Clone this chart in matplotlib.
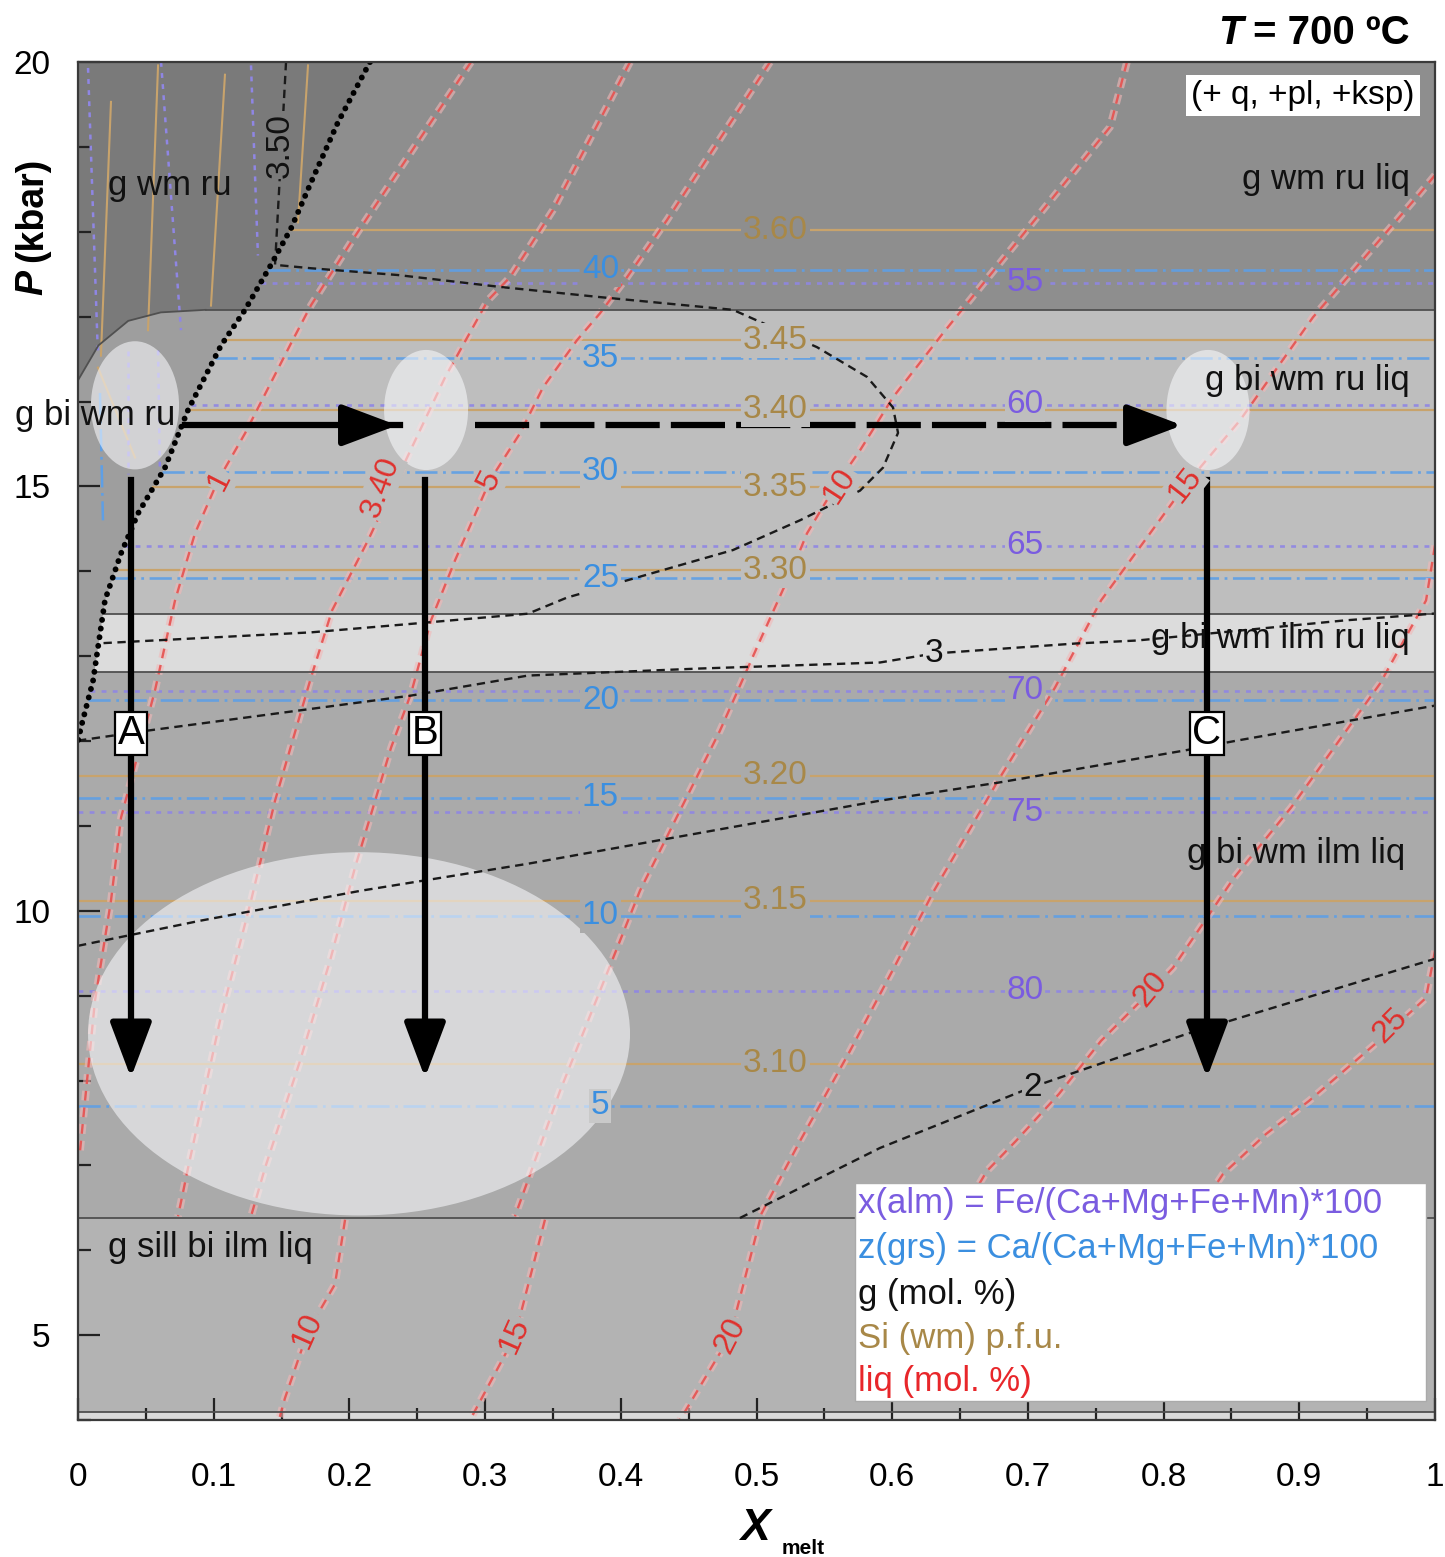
import numpy as np
import matplotlib
matplotlib.use("Agg")
import matplotlib.pyplot as plt
from matplotlib.patches import Ellipse, Polygon, Rectangle

plt.rcParams['font.family'] = ['Liberation Sans', 'DejaVu Sans']
plt.rcParams['lines.scale_dashes'] = False

# ---------------- data ----------------
x_ticks = [0, 0.1, 0.2, 0.3, 0.4, 0.5, 0.6, 0.7, 0.8, 0.9, 1]
x_ticklabels = ['0', '0.1', '0.2', '0.3', '0.4', '0.5', '0.6', '0.7', '0.8', '0.9', '1']
y_ticks = [5, 10, 15, 20]
y_ticklabels = ['5', '10', '15', '20']

# horizontal field bands (kbar)
field_bottom = [17.08, 13.50, 12.81, 6.38, 4.10, 4.00]
field_top = [20.00, 17.08, 13.50, 12.81, 6.38, 4.10]
field_colors = ['#8e8e8e', '#bebebe', '#dcdcdc', '#aaaaaa', '#b3b3b3', '#d9d9d9']
boundary_P = [17.08, 13.50, 12.81, 6.38, 4.10]

# thick dotted boundary
dotted_X = [0.2152, 0.1916, 0.1717, 0.1570, 0.1422, 0.1231, 0.1054, 0.0811, 0.0641,
            0.0442, 0.0317, 0.0199, 0.0111, 0.0022, 0.0]
dotted_P = [20.0, 19.29, 18.58, 18.04, 17.61, 17.08, 16.66, 15.90, 15.22,
            14.68, 14.21, 13.66, 12.71, 12.16, 12.0]
# rounded upper boundary of the g bi wm ru field
curve_X = [0.0, 0.015, 0.037, 0.061, 0.094]
curve_P = [16.25, 16.66, 16.95, 17.05, 17.08]

# garnet isopleths (horizontal)
grs_vals = [40, 35, 30, 25, 20, 15, 10, 5]
grs_P = [17.55, 16.51, 15.17, 13.92, 12.48, 11.33, 9.94, 7.70]
alm_vals = [55, 60, 65, 70, 75, 80]
alm_P = [17.40, 15.96, 14.30, 12.59, 11.16, 9.06]
si_vals = ['3.60', '3.45', '3.40', '3.35', '3.30', '3.20', '3.15', '3.10']
si_P = [18.02, 16.72, 15.90, 14.99, 14.01, 11.59, 10.12, 8.20]
grs_label_X = 0.385
alm_label_X = 0.698
si_label_X = 0.514

# near-vertical isopleths in the ru fields (upper left)
si_v_X = [[0.0243, 0.0169], [0.059, 0.0516], [0.1083, 0.098], [0.1695, 0.1621], [0.0147, 0.042]]
si_v_P = [[19.53, 16.54], [19.96, 16.84], [19.85, 17.13], [19.96, 18.11], [16.40, 15.34]]
alm_v_X = [[0.0074, 0.0147], [0.0612, 0.0759], [0.1275, 0.1326], [0.0368, 0.0368], [0.059, 0.0604]]
alm_v_P = [[19.93, 16.54], [20.0, 16.84], [19.96, 17.72], [16.60, 15.15], [16.60, 15.15]]
grs_v_X = [[0.0162, 0.0184]]
grs_v_P = [[16.10, 14.60]]

# garnet mode isopleths (black dashed)
g35_X = [0.1533, 0.1452, 0.1717, 0.2358, 0.311, 0.3847, 0.4827, 0.5446, 0.5814, 0.6006,
         0.6043, 0.5932, 0.5763, 0.532, 0.4827, 0.4215, 0.3604, 0.3316, 0.2454, 0.1717, 0.0147]
g35_P = [20.0, 17.61, 17.57, 17.49, 17.35, 17.23, 17.08, 16.64, 16.29, 15.93,
         15.63, 15.22, 14.95, 14.60, 14.25, 13.97, 13.69, 13.50, 13.38, 13.28, 13.15]
g3_X = [0.0, 0.0516, 0.2454, 0.3316, 0.4584, 0.5910, 0.6308, 0.7355, 0.7804, 0.9329, 1.0]
g3_P = [12.005, 12.123, 12.535, 12.771, 12.854, 12.925, 13.031, 13.149, 13.184, 13.420, 13.502]
g25_X = [0.0, 0.0899, 0.2085, 0.3316, 0.5910, 0.6780, 0.8150, 0.8541, 1.0]
g25_P = [9.587, 9.882, 10.236, 10.554, 11.297, 11.509, 11.887, 12.005, 12.417]
g2_X = [0.4878, 0.5910, 0.7016, 0.8172, 1.0]
g2_P = [6.38, 7.205, 7.913, 8.550, 9.434]

# melt (liq) isopleths
liq1_X = [0.2896, 0.2307, 0.2012, 0.1717, 0.1570, 0.1231, 0.1032, 0.0862, 0.0715, 0.0567,
          0.0317, 0.0243, 0.0125, 0.0015]
liq1_P = [20.0, 18.585, 17.877, 17.134, 16.686, 15.625, 15.071, 14.446, 13.656, 12.594,
          11.097, 10.118, 8.939, 7.17]
liq3_X = [0.4068, 0.3500, 0.3184, 0.3021, 0.2705, 0.2321, 0.2137, 0.1872, 0.1717, 0.1452,
          0.1275, 0.1046, 0.0811, 0.0737]
liq3_P = [20.0, 18.255, 17.465, 17.193, 16.285, 14.988, 14.363, 13.538, 12.748, 11.297,
          10.118, 8.703, 6.969, 6.40]
liq5_X = [0.5100, 0.4340, 0.4046, 0.3847, 0.3677, 0.3427, 0.3257, 0.3036, 0.2778, 0.2601,
          0.2454, 0.2307, 0.2041, 0.1857, 0.1636, 0.1378, 0.1275]
liq5_P = [20.0, 18.137, 17.465, 17.040, 16.722, 16.167, 15.625, 15.071, 14.127, 13.420,
          12.559, 11.922, 10.507, 9.410, 8.231, 6.969, 6.40]
liq10_X = [0.7730, 0.7605, 0.6374, 0.6006, 0.5763, 0.5593, 0.5372, 0.5269, 0.5026, 0.4731,
           0.4436, 0.4141, 0.3847, 0.3552, 0.3220]
liq10_P = [20.0, 19.233, 16.804, 16.050, 15.425, 15.035, 14.446, 14.045, 13.184, 12.123,
           11.179, 10.236, 9.057, 7.877, 6.40]
liq15_X = [1.0, 0.9890, 0.9101, 0.8563, 0.8158, 0.7539, 0.7200, 0.6780, 0.6308, 0.6013,
           0.5689, 0.5321, 0.5026]
liq15_P = [18.667, 18.455, 16.993, 15.778, 15.012, 13.656, 12.630, 11.533, 10.236, 9.328,
           8.349, 7.288, 6.40]
liq20_X = [1.0, 0.9934, 0.9595, 0.8939, 0.8519, 0.8069, 0.7907, 0.7539, 0.7229, 0.6912,
           0.6698, 0.6500]
liq20_P = [14.304, 13.656, 12.677, 11.215, 10.389, 9.328, 9.057, 8.467, 7.842, 7.288,
           6.934, 6.40]
liq25_X = [1.0, 0.9934, 0.9646, 0.9071, 0.8755, 0.8438, 0.8231]
liq25_P = [9.528, 8.974, 8.550, 7.759, 7.370, 6.899, 6.40]
liqL10_X = [0.1968, 0.1894, 0.1695, 0.1525, 0.1481]
liqL10_P = [6.36, 5.601, 5.047, 4.257, 4.0]
liqL15_X = [0.3441, 0.3220, 0.2889]
liqL15_P = [6.36, 4.988, 4.0]
liqL20_X = [0.5026, 0.4805, 0.4436]
liqL20_P = [6.36, 4.988, 4.0]

liq_label_text = ['1', '3.40', '5', '10', '15', '20', '25', '10', '15', '20']
liq_label_X = [0.1046, 0.2233, 0.3036, 0.5615, 0.8158, 0.7907, 0.9668, 0.1695, 0.3220, 0.4805]
liq_label_P = [15.07, 14.99, 15.07, 15.01, 15.01, 9.08, 8.644, 5.05, 4.99, 4.99]
liq_label_rot = [63, 70, 63, 57, 52, 50, 45, 66, 66, 63]

g_label_text = ['3', '2', '3.50']
g_label_X = [0.6308, 0.7038, 0.149]
g_label_P = [13.03, 7.913, 19.02]
g_label_rot = [0, 0, 90]

# field names
field_names = ['g wm ru', 'g wm ru liq', 'g bi wm ru liq', 'g bi wm ru', 'g bi wm ilm ru liq',
               'g bi wm ilm liq', 'g sill bi ilm liq']
field_name_X = [0.0678, 0.9816, 0.9816, -0.0464, 0.9816, 0.978, 0.0221]
field_name_P = [18.55, 18.61, 16.25, 15.84, 13.21, 10.67, 6.03]
field_name_ha = ['center', 'right', 'right', 'left', 'right', 'right', 'left']

# highlighted ellipses (centre X, centre P, width, height)
ell_X = [0.042, 0.2565, 0.8327, 0.2071]
ell_P = [15.955, 15.90, 15.90, 8.55]
ell_w = [0.0649, 0.0619, 0.0612, 0.3994]
ell_h = [1.51, 1.415, 1.415, 4.28]

# paths
path_P = 15.72
path_solid_X = [0.0789, 0.2373]
path_dash_X = [0.2926, 0.8158]
decomp_X = [0.039, 0.2557, 0.832]
decomp_names = ['A', 'B', 'C']
decomp_P = [15.07, 8.0]
box_P = 12.09

legend_lines = ['x(alm) = Fe/(Ca+Mg+Fe+Mn)*100', 'z(grs) = Ca/(Ca+Mg+Fe+Mn)*100',
                'g (mol. %)', 'Si (wm) p.f.u.', 'liq (mol. %)']
legend_P = [6.545, 6.026, 5.483, 4.965, 4.458]

# colours
GRS_C, GRS_T = '#5e9fe6', '#3b8fe0'
ALM_C, ALM_T = '#8f86e4', '#7a5ce0'
SI_C, SI_T = '#c8a36c', '#a88848'
LIQ_C, LIQ_T = '#e6514f', '#e0302c'
legend_colors = [ALM_T, GRS_T, '#111111', SI_T, '#e8262a']

# ---------------- figure ----------------
fig = plt.figure(figsize=(14.45, 15.57), dpi=100)
ax = fig.add_axes([78 / 1445, 1 - 1420 / 1557, 1357 / 1445, 1358 / 1557])
ax.set_xlim(0, 1)
ax.set_ylim(4, 20)


def bg(P):
    for lo, hi, c in zip(field_bottom, field_top, field_colors):
        if lo <= P <= hi:
            return c
    return field_colors[-1]


def x_start(P):
    if P <= dotted_P[-1]:
        return 0.0
    return float(np.interp(P, dotted_P[::-1], dotted_X[::-1]))


for lo, hi, c in zip(field_bottom, field_top, field_colors):
    ax.axhspan(lo, hi, color=c, lw=0, zorder=0)

# left ru fields
iA = dotted_P.index(17.08)
polyA = [(0, 20)] + list(zip(dotted_X[:iA + 1], dotted_P[:iA + 1])) + \
        list(zip(curve_X[::-1], curve_P[::-1]))
ax.add_patch(Polygon(polyA, closed=True, fc='#7a7a7a', ec='none', zorder=0.5))
polyB = list(zip(curve_X, curve_P)) + list(zip(dotted_X[iA:], dotted_P[iA:]))
ax.add_patch(Polygon(polyB, closed=True, fc='#9e9e9e', ec='none', zorder=0.5))

# horizontal isopleths
for P in si_P:
    ax.plot([x_start(P), 1], [P, P], color=SI_C, lw=1.6, zorder=2)
for P in grs_P:
    ax.plot([x_start(P), 1], [P, P], color=GRS_C, lw=1.9, dashes=(16, 4, 2, 4), alpha=0.9, zorder=2)
for P in alm_P:
    ax.plot([x_start(P), 1], [P, P], color=ALM_C, lw=1.9, dashes=(3.5, 4.5), alpha=0.9, zorder=2)

for X, P in zip(si_v_X, si_v_P):
    ax.plot(X, P, color=SI_C, lw=1.5, zorder=2)
for X, P in zip(alm_v_X, alm_v_P):
    ax.plot(X, P, color=ALM_C, lw=1.8, dashes=(3.5, 4.5), zorder=2)
for X, P in zip(grs_v_X, grs_v_P):
    ax.plot(X, P, color=GRS_C, lw=1.8, dashes=(16, 4, 2, 4), zorder=2)

# liq isopleths
liq_lines = [(liq1_X, liq1_P), (liq3_X, liq3_P), (liq5_X, liq5_P), (liq10_X, liq10_P),
             (liq15_X, liq15_P), (liq20_X, liq20_P), (liq25_X, liq25_P),
             (liqL10_X, liqL10_P), (liqL15_X, liqL15_P), (liqL20_X, liqL20_P)]
for X, P in liq_lines:
    ax.plot(X, P, color='#f2b8b8', lw=5.5, dashes=(7, 5), alpha=0.6, zorder=2.1)
    ax.plot(X, P, color=LIQ_C, lw=1.7, dashes=(7, 5), alpha=0.9, zorder=2.2)

# field boundaries
for P in boundary_P:
    x0 = 0.094 if P == 17.08 else (x_start(P) if P > 12 else 0)
    ax.plot([x0, 1], [P, P], color='#505050', lw=1.3, zorder=3)
ax.plot(curve_X, curve_P, color='#505050', lw=1.3, zorder=3)

# ellipses
for cx, cy, w, h in zip(ell_X, ell_P, ell_w, ell_h):
    ax.add_patch(Ellipse((cx, cy), w, h, fc='#f8f9fc', ec='none', alpha=0.58, zorder=4))

# garnet mode lines
for X, P in [(g35_X, g35_P), (g3_X, g3_P), (g25_X, g25_P), (g2_X, g2_P)]:
    ax.plot(X, P, color='#1a1a1a', lw=1.7, dashes=(6, 4), zorder=5)

# thick dotted boundary
ax.plot(dotted_X, dotted_P, color='black', lw=4.2, dashes=(0.1, 6.2),
        dash_capstyle='round', zorder=5.5)

# P-X paths
arrow_kw = dict(arrowstyle='-|>,head_length=0.85,head_width=0.32', mutation_scale=40,
                lw=4.5, color='black')
ax.plot(path_solid_X, [path_P, path_P], color='black', lw=4.5, zorder=6)
ax.annotate('', xy=(path_solid_X[1], path_P), xytext=(path_solid_X[1] - 0.03, path_P),
            arrowprops=arrow_kw, zorder=6)
ax.plot([path_dash_X[0], path_dash_X[1] - 0.02], [path_P, path_P], color='black', lw=4.5,
        dashes=(39, 8), zorder=6)
ax.annotate('', xy=(path_dash_X[1], path_P), xytext=(path_dash_X[1] - 0.03, path_P),
            arrowprops=arrow_kw, zorder=6)
for X, name in zip(decomp_X, decomp_names):
    ax.plot([X, X], [decomp_P[0], decomp_P[1] + 0.3], color='black', lw=4.5, zorder=6)
    ax.annotate('', xy=(X, decomp_P[1]), xytext=(X, decomp_P[1] + 0.4),
                arrowprops=arrow_kw, zorder=6)
    ax.text(X, box_P, name, fontsize=29, ha='center', va='center', zorder=7,
            bbox=dict(boxstyle='square,pad=0.06', fc='white', ec='black', lw=1.6))

# isopleth labels
def lab_bbox(P, fc=None):
    return dict(boxstyle='square,pad=0.05', fc=fc or bg(P), ec='none')


for v, P in zip(grs_vals, grs_P):
    fc = '#c9c9c9' if v == 5 else None
    ax.text(grs_label_X, P, str(v), color=GRS_T, fontsize=24, ha='center', va='center',
            zorder=8, bbox=lab_bbox(P, fc))
for v, P in zip(alm_vals, alm_P):
    ax.text(alm_label_X, P, str(v), color=ALM_T, fontsize=24, ha='center', va='center',
            zorder=8, bbox=lab_bbox(P))
for v, P in zip(si_vals, si_P):
    ax.text(si_label_X, P, v, color=SI_T, fontsize=24, ha='center', va='center',
            zorder=8, bbox=lab_bbox(P))
for t, X, P, r in zip(liq_label_text, liq_label_X, liq_label_P, liq_label_rot):
    ax.text(X, P, t, color=LIQ_T, fontsize=23, ha='center', va='center', rotation=r,
            rotation_mode='anchor', zorder=8, bbox=lab_bbox(P))
for t, X, P, r in zip(g_label_text, g_label_X, g_label_P, g_label_rot):
    fc = '#7a7a7a' if t == '3.50' else bg(P)
    ax.text(X, P, t, color='#111111', fontsize=24, ha='center', va='center', rotation=r,
            zorder=8, bbox=dict(boxstyle='square,pad=0.05', fc=fc, ec='none'))

# field names
for t, X, P, ha in zip(field_names, field_name_X, field_name_P, field_name_ha):
    ax.text(X, P, t, fontsize=25, ha=ha, va='center', color='#111111', zorder=9,
            clip_on=False)

# assemblage note
ax.text(0.9027, 19.60, '(+ q, +pl, +ksp)', fontsize=24, ha='center', va='center', zorder=9,
        bbox=dict(boxstyle='square,pad=0.15', fc='white', ec='none'))

# legend
ax.add_patch(Rectangle((0.5726, 4.22), 0.4208, 2.57, fc='white', ec='#aaaaaa', lw=1,
                       zorder=9))
for t, P, c in zip(legend_lines, legend_P, legend_colors):
    ax.text(0.5748, P, t, color=c, fontsize=25, ha='left', va='center', zorder=10)

# axes styling
ax.set_xticks(x_ticks)
ax.set_xticklabels(x_ticklabels)
ax.set_yticks(y_ticks)
ax.set_yticklabels(y_ticklabels)
ax.set_xticks(np.arange(0.05, 1.0, 0.1), minor=True)
ax.set_yticks(np.arange(4, 21, 1), minor=True)
ax.tick_params(which='both', direction='in', color='#222222', width=1.6, top=False,
               right=False, zorder=10)
ax.tick_params(which='major', length=16)
ax.tick_params(which='minor', length=9)
ax.tick_params(axis='x', labelsize=24, pad=30)
ax.tick_params(axis='y', labelsize=24, pad=20)
for sp in ax.spines.values():
    sp.set_color('#3a3a3a')
    sp.set_linewidth(1.6)
    sp.set_zorder(11)

# titles / axis labels
t1 = fig.text(1410 / 1445, 1 - 33 / 1557, ' = 700 ºC', fontsize=29, fontweight='bold',
              ha='right', va='center')
fig.canvas.draw()
r = fig.canvas.get_renderer()
bb = t1.get_window_extent(r)
fig.text(bb.x0 / 1445, 1 - 33 / 1557, 'T', fontsize=29, fontweight='bold', style='italic',
         ha='right', va='center')

t2 = fig.text(32 / 1445, 1 - 158 / 1557, '(kbar)', fontsize=27, fontweight='bold',
              rotation=90, ha='center', va='top')
fig.canvas.draw()
bb2 = t2.get_window_extent(r)
fig.text(32 / 1445, (bb2.y0 - 8) / 1557, 'P', fontsize=27, fontweight='bold',
         style='italic', rotation=90, ha='center', va='top')

fig.text(755 / 1445, 1 - 1528 / 1557, 'X', fontsize=32, fontweight='bold', style='italic',
         ha='center', va='center')
fig.text(803 / 1445, 1 - 1548 / 1557, 'melt', fontsize=15, fontweight='bold',
         ha='center', va='center')

fig.savefig('out.png', dpi=100, facecolor='white')
